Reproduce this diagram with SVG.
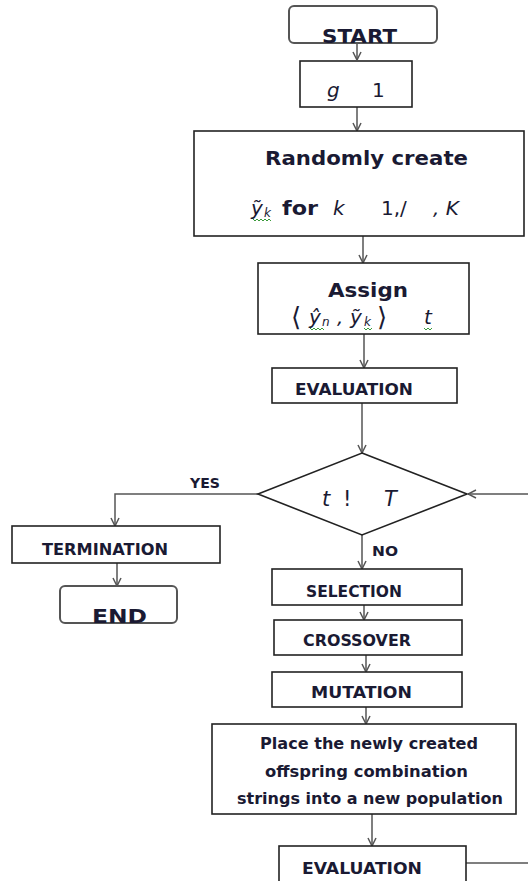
<svg xmlns="http://www.w3.org/2000/svg" width="528" height="881" viewBox="0 0 528 881">
<style>
.box{fill:#fff;stroke:#222;stroke-width:1.6}
.term{fill:#fff;stroke:#555;stroke-width:2}
.con{fill:none;stroke:#555;stroke-width:1.5}
.lbl{font-family:"DejaVu Sans",sans-serif;font-weight:bold;fill:#1a1a33}
.math{font-family:"DejaVu Sans",sans-serif;font-style:italic;fill:#1a1a33}
.mr{font-family:"DejaVu Sans",sans-serif;fill:#1a1a33}
.sq{fill:none;stroke:#3a9a3a;stroke-width:1}
</style>
<defs>
<marker id="arr" viewBox="0 0 10 10" refX="10" refY="5" markerWidth="10" markerHeight="10" markerUnits="userSpaceOnUse" orient="auto">
<path d="M2,1 L10,5 L2,9" fill="none" stroke="#555" stroke-width="1.5"/>
</marker>
</defs>
<rect width="528" height="881" fill="#fff"/>
<g id="connectors">
<path class="con" d="M357,43 V60" marker-end="url(#arr)"/>
<path class="con" d="M357,107 V131" marker-end="url(#arr)"/>
<path class="con" d="M363,236 V263" marker-end="url(#arr)"/>
<path class="con" d="M364,334 V368" marker-end="url(#arr)"/>
<path class="con" d="M362,403 V453" marker-end="url(#arr)"/>
<path class="con" d="M258,494 H115 V526" marker-end="url(#arr)"/>
<path class="con" d="M117,563 V586" marker-end="url(#arr)"/>
<path class="con" d="M362,535 V569" marker-end="url(#arr)"/>
<path class="con" d="M364,605 V620" marker-end="url(#arr)"/>
<path class="con" d="M366,655 V672" marker-end="url(#arr)"/>
<path class="con" d="M366,707 V724" marker-end="url(#arr)"/>
<path class="con" d="M372,814 V846" marker-end="url(#arr)"/>
<path class="con" d="M466,863 H534 V494 H468" marker-end="url(#arr)"/>
</g>
<g id="start">
<rect class="term" x="289" y="6" width="148" height="37" rx="5"/>
<text class="lbl" x="322" y="43" font-size="20" textLength="75" lengthAdjust="spacingAndGlyphs">START</text>
</g>
<g id="init">
<rect class="box" x="300" y="61" width="112" height="46"/>
<text class="math" x="327" y="97" font-size="20">g</text>
<text class="mr" x="372" y="97" font-size="20">1</text>
</g>
<g id="create">
<rect class="box" x="194" y="131" width="330" height="105"/>
<text class="lbl" x="265" y="165" font-size="20" textLength="203" lengthAdjust="spacingAndGlyphs">Randomly create</text>
<text class="math" x="251" y="215" font-size="20">ỹ</text>
<text class="math" x="264" y="217" font-size="12">k</text>
<text class="lbl" x="282" y="215" font-size="20" textLength="36" lengthAdjust="spacingAndGlyphs">for</text>
<text class="math" x="333" y="215" font-size="20">k</text>
<text class="mr" x="381" y="215" font-size="20">1,/</text>
<text class="math" x="433" y="215" font-size="20">, K</text>
<path class="sq" d="M253,219 l2,2 l2,-2 l2,2 l2,-2 l2,2 l2,-2 l2,2 l2,-2 l2,2"/>
</g>
<g id="assign">
<rect class="box" x="258" y="263" width="211" height="71"/>
<text class="lbl" x="328" y="297" font-size="20" textLength="80" lengthAdjust="spacingAndGlyphs">Assign</text>
<text class="mr" x="291" y="326" font-size="26">⟨</text>
<text class="math" x="309" y="324" font-size="20">ŷ</text>
<text class="math" x="322" y="326" font-size="12">n</text>
<text class="math" x="337" y="324" font-size="20">,</text>
<text class="math" x="350" y="324" font-size="20">ỹ</text>
<text class="math" x="364" y="326" font-size="12">k</text>
<text class="mr" x="377" y="326" font-size="26">⟩</text>
<text class="math" x="424" y="324" font-size="20">t</text>
<path class="sq" d="M310,328 l2,2 l2,-2 l2,2 l2,-2 l2,2 l2,-2 l2,2"/>
<path class="sq" d="M364,328 l2,2 l2,-2 l2,2 l2,-2"/>
<path class="sq" d="M424,328 l2,2 l2,-2 l2,2 l2,-2"/>
</g>
<g id="eval1">
<rect class="box" x="272" y="368" width="185" height="35"/>
<text class="lbl" x="295" y="395" font-size="15.5" textLength="118" lengthAdjust="spacingAndGlyphs">EVALUATION</text>
</g>
<g id="decision">
<polygon class="box" points="362,453 467,494 362,535 258,494"/>
<text class="math" x="322" y="506" font-size="21">t</text>
<text class="mr" x="343" y="506" font-size="21">!</text>
<text class="math" x="384" y="506" font-size="21">T</text>
<text class="lbl" x="190" y="488" font-size="14" textLength="30" lengthAdjust="spacingAndGlyphs">YES</text>
<text class="lbl" x="372" y="556" font-size="14" textLength="26" lengthAdjust="spacingAndGlyphs">NO</text>
</g>
<g id="termination">
<rect class="box" x="12" y="526" width="208" height="37"/>
<text class="lbl" x="42" y="555" font-size="15.5" textLength="126" lengthAdjust="spacingAndGlyphs">TERMINATION</text>
</g>
<g id="end">
<rect class="term" x="60" y="586" width="117" height="37" rx="5"/>
<text class="lbl" x="92" y="623" font-size="20" textLength="55" lengthAdjust="spacingAndGlyphs">END</text>
</g>
<g id="selection">
<rect class="box" x="272" y="569" width="190" height="36"/>
<text class="lbl" x="306" y="597" font-size="15.5" textLength="96" lengthAdjust="spacingAndGlyphs">SELECTION</text>
</g>
<g id="crossover">
<rect class="box" x="274" y="620" width="188" height="35"/>
<text class="lbl" x="303" y="646" font-size="15.5" textLength="108" lengthAdjust="spacingAndGlyphs">CROSSOVER</text>
</g>
<g id="mutation">
<rect class="box" x="272" y="672" width="190" height="35"/>
<text class="lbl" x="311" y="698" font-size="15.5" textLength="101" lengthAdjust="spacingAndGlyphs">MUTATION</text>
</g>
<g id="place">
<rect class="box" x="212" y="724" width="304" height="90"/>
<text class="lbl" x="260" y="749" font-size="15.5" textLength="218" lengthAdjust="spacingAndGlyphs">Place the newly created</text>
<text class="lbl" x="265" y="777" font-size="15.5" textLength="203" lengthAdjust="spacingAndGlyphs">offspring combination</text>
<text class="lbl" x="237" y="804" font-size="15.5" textLength="266" lengthAdjust="spacingAndGlyphs">strings into a new population</text>
</g>
<g id="eval2">
<rect class="box" x="279" y="846" width="187" height="45"/>
<text class="lbl" x="302" y="874" font-size="15.5" textLength="120" lengthAdjust="spacingAndGlyphs">EVALUATION</text>
</g>
</svg>
